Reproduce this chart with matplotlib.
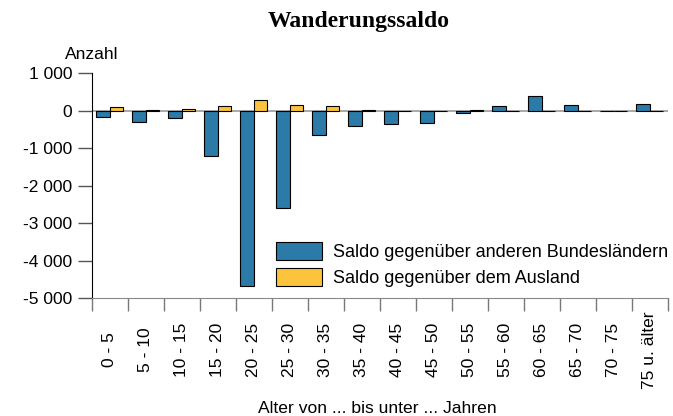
import numpy as np
import matplotlib
matplotlib.use("Agg")
import matplotlib.pyplot as plt

# Daten: Wanderungssaldo nach Altersgruppen
altersgruppen = ["0 - 5", "5 - 10", "10 - 15", "15 - 20", "20 - 25", "25 - 30",
                 "30 - 35", "35 - 40", "40 - 45", "45 - 50", "50 - 55", "55 - 60",
                 "60 - 65", "65 - 70", "70 - 75", "75 u. älter"]
saldo_bundeslaender = [-160, -310, -195, -1200, -4690, -2590, -655, -400,
                       -345, -335, -70, 130, 385, 150, -10, 180]
saldo_ausland = [100, 20, 50, 140, 300, 150, 115, 20,
                 -10, -10, 10, -10, -10, -10, -10, -15]

blau = "#2b7aa8"
gelb = "#fbc43c"

plt.rcParams["font.family"] = ["Liberation Sans", "DejaVu Sans"]
fig = plt.figure(figsize=(6.73, 4.16), dpi=100)
ax = fig.add_axes([0.1363, 0.2837, 0.856, 0.540])

x = np.arange(len(altersgruppen))
b = 0.375
ax.axhline(0, color="#999999", lw=1.2, zorder=1)
ax.bar(x - b / 2, saldo_bundeslaender, b, color=blau, edgecolor="black", lw=0.8,
       label="Saldo gegenüber anderen Bundesländern", zorder=2)
ax.bar(x + b / 2, saldo_ausland, b, color=gelb, edgecolor="black", lw=0.8,
       label="Saldo gegenüber dem Ausland", zorder=2)

ax.set_xlim(-0.5, len(altersgruppen) - 0.5)
ax.set_ylim(-5000, 1000)
ax.set_yticks(range(-5000, 1001, 1000))
ax.set_yticklabels([f"{v:,}".replace(",", " ") for v in range(-5000, 1001, 1000)])

# Striche an den Kategoriegrenzen, Beschriftung mittig darunter
ax.set_xticks(np.arange(-0.5, len(altersgruppen), 1.0))
ax.set_xticklabels([])
ax.tick_params(axis="x", length=9, color="#777777", width=1)
ax.tick_params(axis="y", length=10, color="#555555", width=1, labelsize=12.5, pad=4)
for xi, lab in zip(x, altersgruppen):
    ax.text(xi, -0.2314, lab, rotation=90, ha="center", va="center", fontsize=12.5,
            transform=ax.get_xaxis_transform())

for s in ["top", "right"]:
    ax.spines[s].set_visible(False)
ax.spines["left"].set_color("black")
ax.spines["bottom"].set_color("#888888")

fig.text(0.561, 0.008, "Alter von ... bis unter ... Jahren", fontsize=12.6,
         ha="center", va="baseline")
fig.text(0.1357, 0.858, "Anzahl", fontsize=12.5, ha="center", va="baseline")
fig.text(0.533, 0.935, "Wanderungssaldo", fontsize=17, fontweight="bold",
         family="Liberation Serif", ha="center", va="baseline")

ax.legend(loc="lower left", bbox_to_anchor=(0.32, 0.048), frameon=False, fontsize=13,
          handlelength=2.53, handleheight=1.14, handletextpad=0.63, labelspacing=0.4,
          borderaxespad=0, borderpad=0)

fig.savefig("out.png", dpi=100)
